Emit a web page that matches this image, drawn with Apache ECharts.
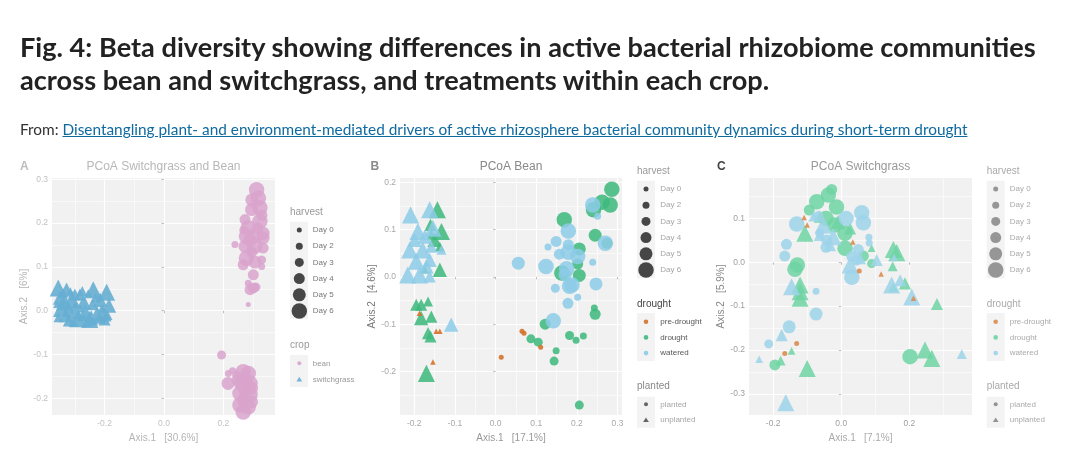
<!DOCTYPE html>
<html>
<head>
<meta charset="utf-8">
<script src="https://cdn.jsdelivr.net/npm/echarts@6/dist/echarts.min.js"></script>
<style>
html, body { margin: 0; padding: 0; background: #fff; }
#wrap { position: relative; width: 1080px; height: 456px; overflow: hidden; }
#chart { position: absolute; left: 0; top: 0; width: 1080px; height: 456px; }
.hd { position: absolute; left: 20px; white-space: nowrap; transform-origin: 0 0; font-family: Lato, "Noto Sans", sans-serif; }
.t { font-size: 26px; line-height: 26px; font-weight: 700; color: #222; }
.s { font-size: 15px; line-height: 15px; color: #333; }
.s a { color: #0f6aa0; text-decoration: underline; }
</style>
</head>
<body>
<div id="wrap">
  <div id="chart"></div>
  <div class="hd t" id="t1" style="top:34px">Fig. 4: Beta diversity showing differences in active bacterial rhizobiome communities</div>
  <div class="hd t" id="t2" style="top:67px">across bean and switchgrass, and treatments within each crop.</div>
  <div class="hd s" id="s1" style="top:122px">From: <a>Disentangling plant- and environment-mediated drivers of active rhizosphere bacterial community dynamics during short-term drought</a></div>
</div>
<script>
// fit header lines to the reference widths
const t1 = document.getElementById('t1')
const t2 = document.getElementById('t2')
const s1 = document.getElementById('s1')
const kT = 1016 / t1.scrollWidth
t1.style.transform = 'scaleX(' + kT + ')'
t2.style.transform = 'scaleX(' + kT + ')'
s1.style.transform = 'scaleX(' + (947 / s1.scrollWidth) + ')'

// harvest day levels and legend labels
const harvestDays = [0, 2, 3, 4, 5, 6]
const harvestLabels = ['Day 0', 'Day 2', 'Day 3', 'Day 4', 'Day 5', 'Day 6']
const harvestSizes = [5, 7, 9, 11, 13, 15.5]

// panel A: [axis1, axis2, harvest day]
const aBean = [
    [0.312, 0.276, 6], [0.318, 0.257, 6], [0.323, 0.235, 6], [0.295, 0.231, 5], [0.273, 0.208, 4],
    [0.323, 0.204, 6], [0.284, 0.189, 6], [0.334, 0.177, 5], [0.278, 0.170, 6], [0.334, 0.166, 5],
    [0.239, 0.151, 2], [0.273, 0.147, 5], [0.306, 0.147, 6], [0.334, 0.143, 4], [0.278, 0.120, 6],
    [0.329, 0.116, 3], [0.267, 0.105, 4], [0.329, 0.101, 2], [0.301, 0.082, 4], [0.284, 0.063, 2],
    [0.301, 0.052, 4], [0.290, 0.048, 4], [0.284, 0.014, 0], [0.310, 0.054, 3], [0.296, 0.253, 5],
    [0.330, 0.218, 4], [0.290, 0.161, 5], [0.310, 0.173, 6], [0.306, 0.111, 5], [0.269, 0.184, 3],
    [0.316, 0.189, 4], [0.296, 0.134, 4],
    [0.194, -0.101, 3], [0.217, -0.143, 2], [0.231, -0.137, 2], [0.216, -0.166, 5], [0.267, -0.139, 6],
    [0.284, -0.143, 6], [0.262, -0.166, 6], [0.290, -0.166, 6], [0.256, -0.189, 6], [0.290, -0.192, 6],
    [0.256, -0.215, 6], [0.284, -0.219, 6], [0.267, -0.231, 6], [0.278, -0.158, 5], [0.273, -0.181, 5],
    [0.267, -0.204, 5], [0.250, -0.158, 5], [0.295, -0.177, 5], [0.245, -0.147, 3], [0.295, -0.208, 5]
]
const aSwitch = [
    [-0.356, 0.052, 6], [-0.328, 0.048, 5], [-0.300, 0.037, 4], [-0.283, 0.037, 4], [-0.238, 0.048, 6],
    [-0.193, 0.042, 6], [-0.350, 0.030, 5], [-0.335, 0.020, 6], [-0.345, 0.005, 6], [-0.330, -0.010, 5],
    [-0.310, 0.025, 6], [-0.300, 0.000, 6], [-0.290, -0.018, 6], [-0.270, 0.020, 5], [-0.265, -0.005, 6],
    [-0.250, -0.020, 6], [-0.240, 0.015, 4], [-0.225, -0.010, 6], [-0.215, 0.025, 5], [-0.205, -0.005, 6],
    [-0.185, 0.012, 5], [-0.200, -0.020, 4], [-0.320, -0.022, 4], [-0.355, -0.015, 3], [-0.340, 0.040, 3],
    [-0.315, 0.045, 2], [-0.275, 0.045, 3], [-0.255, 0.040, 2], [-0.230, 0.030, 3], [-0.210, 0.005, 2],
    [-0.280, 0.005, 2], [-0.305, -0.025, 3], [-0.260, -0.025, 3], [-0.235, -0.025, 2], [-0.360, 0.015, 2],
    [-0.190, -0.010, 3], [-0.295, 0.015, 0], [-0.245, -0.005, 0], [-0.270, -0.015, 2], [-0.320, 0.005, 3]
]

// panel B: [axis1, axis2, harvest day, planted p / unplanted u]
const bDrought = [
    [-0.143, 0.142, 6, 'u'], [-0.133, 0.096, 6, 'u'], [-0.150, 0.078, 5, 'u'], [-0.137, 0.064, 3, 'u'],
    [-0.137, 0.015, 5, 'u'], [-0.174, 0.015, 2, 'u'], [-0.195, -0.059, 4, 'u'], [-0.183, -0.059, 4, 'u'],
    [-0.166, -0.052, 3, 'u'], [-0.183, -0.087, 5, 'u'], [-0.158, -0.084, 4, 'u'], [-0.166, -0.119, 4, 'u'],
    [-0.160, -0.126, 4, 'u'], [-0.170, -0.204, 6, 'u'], [-0.160, 0.110, 4, 'u'], [-0.158, 0.089, 3, 'u'],
    [0.286, 0.185, 6, 'p'], [0.262, 0.158, 6, 'p'], [0.282, 0.152, 6, 'p'], [0.241, 0.142, 6, 'p'],
    [0.169, 0.121, 6, 'p'], [0.245, 0.088, 5, 'p'], [0.274, 0.071, 4, 'p'], [0.206, 0.059, 5, 'p'],
    [0.202, 0.027, 4, 'p'], [0.163, 0.008, 6, 'p'], [0.206, 0.003, 5, 'p'], [0.243, -0.066, 2, 'p'],
    [0.245, -0.079, 4, 'p'], [0.122, -0.100, 4, 'p'], [0.182, -0.124, 3, 'p'], [0.216, -0.125, 2, 'p'],
    [0.198, -0.134, 2, 'p'], [0.087, -0.131, 3, 'p'], [0.105, -0.138, 3, 'p'], [0.149, -0.156, 2, 'p'],
    [0.144, -0.178, 3, 'p'], [0.206, -0.271, 3, 'p']
]
const bWatered = [
    [-0.209, 0.131, 6, 'u'], [-0.162, 0.142, 6, 'u'], [-0.191, 0.096, 6, 'u'], [-0.154, 0.103, 6, 'u'],
    [-0.174, 0.085, 5, 'u'], [-0.211, 0.057, 6, 'u'], [-0.179, 0.057, 6, 'u'], [-0.195, 0.033, 6, 'u'],
    [-0.162, 0.036, 5, 'u'], [-0.216, 0.004, 6, 'u'], [-0.187, 0.004, 6, 'u'], [-0.162, 0.001, 4, 'u'],
    [-0.133, 0.057, 3, 'u'], [-0.158, 0.064, 4, 'u'], [-0.109, -0.101, 5, 'u'], [-0.170, 0.022, 5, 'u'],
    [-0.199, 0.078, 5, 'u'],
    [0.239, 0.152, 6, 'p'], [0.251, 0.128, 2, 'p'], [0.179, 0.097, 6, 'p'], [0.270, 0.071, 6, 'p'],
    [0.149, 0.075, 4, 'p'], [0.129, 0.063, 2, 'p'], [0.179, 0.068, 4, 'p'], [0.157, 0.048, 4, 'p'],
    [0.179, 0.052, 6, 'p'], [0.202, 0.043, 6, 'p'], [0.056, 0.029, 5, 'p'], [0.124, 0.022, 6, 'p'],
    [0.239, 0.031, 2, 'p'], [0.175, 0.017, 6, 'p'], [0.171, 0.004, 5, 'p'], [0.147, -0.024, 3, 'p'],
    [0.182, -0.020, 6, 'p'], [0.188, -0.017, 6, 'p'], [0.247, -0.015, 5, 'p'], [0.202, -0.043, 2, 'p'],
    [0.178, -0.056, 4, 'p'], [0.142, -0.093, 6, 'p']
]
const bPre = [
    [-0.187, -0.077, 0, 'u'], [-0.146, -0.115, 0, 'u'], [-0.137, -0.115, 0, 'u'], [-0.154, -0.180, 0, 'u'],
    [0.065, -0.115, 0, 'p'], [0.070, -0.119, 0, 'p'], [0.111, -0.149, 0, 'p'], [0.014, -0.170, 0, 'p']
]

// panel C
const cDrought = [
    [-0.028, 0.166, 4, 'p'], [-0.038, 0.153, 6, 'p'], [-0.072, 0.138, 6, 'p'], [-0.094, 0.119, 4, 'p'],
    [-0.014, 0.126, 6, 'p'], [-0.045, 0.100, 6, 'p'], [-0.019, 0.085, 6, 'p'], [0.011, 0.066, 6, 'p'],
    [0.011, 0.032, 6, 'p'], [0.065, 0.014, 4, 'p'], [0.089, -0.003, 3, 'p'], [-0.129, -0.006, 6, 'p'],
    [-0.136, -0.016, 6, 'p'], [0.202, -0.215, 6, 'p'], [-0.195, -0.234, 4, 'p'],
    [-0.107, 0.066, 6, 'u'], [-0.063, 0.104, 4, 'u'], [-0.009, 0.092, 5, 'u'], [0.026, 0.077, 4, 'u'],
    [0.089, 0.032, 2, 'u'], [0.153, 0.029, 6, 'u'], [0.163, 0.022, 6, 'u'], [0.151, -0.009, 3, 'u'],
    [-0.121, -0.052, 6, 'u'], [-0.121, -0.067, 6, 'u'], [-0.121, -0.082, 6, 'u'], [0.153, -0.057, 3, 'u'],
    [0.187, -0.048, 4, 'u'], [0.281, -0.095, 4, 'u'], [0.246, -0.200, 6, 'u'], [0.266, -0.219, 6, 'u'],
    [-0.100, -0.242, 6, 'u'], [-0.146, -0.202, 2, 'u'], [-0.178, -0.224, 3, 'u']
]
const cWatered = [
    [-0.131, 0.087, 6, 'p'], [-0.068, 0.104, 4, 'p'], [0.014, 0.100, 6, 'p'], [0.060, 0.113, 6, 'p'],
    [0.065, 0.090, 6, 'p'], [-0.161, 0.041, 4, 'p'], [-0.166, 0.014, 4, 'p'], [-0.043, 0.051, 4, 'p'],
    [-0.063, 0.066, 3, 'p'], [-0.045, 0.034, 4, 'p'], [0.031, -0.034, 6, 'p'], [0.031, 0.013, 4, 'p'],
    [0.050, 0.029, 4, 'p'], [0.081, 0.057, 2, 'p'], [0.082, 0.044, 2, 'p'], [-0.074, -0.066, 2, 'p'],
    [-0.074, -0.118, 5, 'p'], [-0.153, -0.147, 5, 'p'], [-0.213, -0.186, 3, 'p'], [0.045, 0.005, 4, 'p'],
    [-0.146, -0.056, 6, 'u'], [-0.082, 0.104, 3, 'u'], [-0.053, 0.085, 6, 'u'], [-0.063, 0.062, 4, 'u'],
    [-0.024, 0.058, 6, 'u'], [-0.033, 0.039, 4, 'u'], [0.026, -0.006, 6, 'u'], [0.055, 0.009, 4, 'u'],
    [0.104, 0.005, 4, 'u'], [0.155, 0.011, 2, 'u'], [0.148, -0.052, 6, 'u'], [0.173, -0.041, 4, 'u'],
    [0.207, -0.079, 6, 'u'], [-0.175, -0.166, 4, 'u'], [-0.241, -0.221, 2, 'u'], [0.354, -0.209, 3, 'u'],
    [-0.163, -0.320, 6, 'u']
]
const cPre = [
    [0.053, -0.020, 0, 'p'], [-0.131, -0.185, 0, 'p'], [-0.166, -0.208, 0, 'p'],
    [-0.109, 0.102, 0, 'u'], [-0.100, 0.085, 0, 'u'], [0.034, 0.046, 0, 'u'], [0.117, -0.027, 0, 'u'],
    [0.212, -0.082, 0, 'u']
]

const cropLabels = ['bean', 'switchgrass']
const droughtLabels = ['pre-drought', 'drought', 'watered']
const plantedLabels = ['planted', 'unplanted']

const FONT = '"Liberation Sans", Arial, sans-serif'
const PANEL_BG = '#f1f1f1'
const sizeOf = d => harvestSizes[harvestDays.indexOf(d)]

const panels = [
    { left: 52, width: 223, x: [-0.377, 0.374], y: [-0.238, 0.303],
      xMaj: [-0.2, 0, 0.2], xMin: [-0.3, -0.1, 0.1, 0.3],
      yMaj: [-0.2, -0.1, 0, 0.1, 0.2, 0.3], yMin: [-0.15, -0.05, 0.05, 0.15, 0.25],
      xName: 'Axis.1   [30.6%]', yName: 'Axis.2   [6%]',
      tick: '#c2c2c2', name: '#b5b5b5', yNameC: '#b5b5b5' },
    { left: 400, width: 222, x: [-0.235, 0.311], y: [-0.292, 0.209],
      xMaj: [-0.2, -0.1, 0, 0.1, 0.2, 0.3], xMin: [-0.15, -0.05, 0.05, 0.15, 0.25],
      yMaj: [-0.2, -0.1, 0, 0.1, 0.2], yMin: [-0.25, -0.15, -0.05, 0.05, 0.15],
      xName: 'Axis.1   [17.1%]', yName: 'Axis.2   [4.6%]',
      tick: '#a8a8a8', name: '#999', yNameC: '#777' },
    { left: 749, width: 223, x: [-0.271, 0.384], y: [-0.348, 0.192],
      xMaj: [-0.2, 0, 0.2], xMin: [-0.1, 0.1, 0.3],
      yMaj: [-0.3, -0.2, -0.1, 0, 0.1], yMin: [-0.25, -0.15, -0.05, 0.05, 0.15],
      xName: 'Axis.1   [7.1%]', yName: 'Axis.2   [5.9%]',
      tick: '#a0a0a0', name: '#aaa', yNameC: '#888' }
]

const grid = panels.map(p => ({
    left: p.left, top: 178, width: p.width, height: 237,
    show: true, backgroundColor: PANEL_BG, borderWidth: 0
}))

function axisPair(p, i, dim) {
    const isX = dim === 'x'
    const ext = p[dim]
    const major = {
        type: 'value', gridIndex: i, min: ext[0], max: ext[1],
        axisLine: { show: false },
        axisTick: { show: true, length: 2.5, lineStyle: { color: '#b0b0b0', width: 0.8 }, customValues: p[dim + 'Maj'] },
        axisLabel: { show: true, customValues: p[dim + 'Maj'], fontSize: 8.5, fontFamily: FONT, color: p.tick, margin: 4,
            formatter: v => v.toFixed(1) },
        splitLine: { show: true, lineStyle: { color: '#ffffff', width: 1.2 } },
        name: isX ? p.xName : p.yName,
        nameLocation: 'middle',
        nameGap: isX ? 12 : 21,
        nameTextStyle: { fontSize: 10, fontFamily: FONT, color: isX ? p.name : p.yNameC }
    }
    const minor = {
        type: 'value', gridIndex: i, min: ext[0], max: ext[1],
        axisLine: { show: false },
        axisTick: { show: false, customValues: p[dim + 'Min'] },
        axisLabel: { show: false, customValues: p[dim + 'Min'] },
        splitLine: { show: true, lineStyle: { color: '#ffffff', width: 0.6 } }
    }
    return [major, minor]
}

const xAxis = []
const yAxis = []
panels.forEach((p, i) => {
    const [xm, xn] = axisPair(p, i, 'x')
    const [ym, yn] = axisPair(p, i, 'y')
    xAxis[i] = xm; xAxis[i + 3] = xn
    yAxis[i] = ym; yAxis[i + 3] = yn
})

function scatter(name, data, idx, color, opacity, fixedSymbol) {
    return {
        name, type: 'scatter', xAxisIndex: idx, yAxisIndex: idx, data,
        symbol: fixedSymbol ? fixedSymbol : (v => v[3] === 'u' ? 'triangle' : 'circle'),
        symbolSize: (v) => {
            const tri = fixedSymbol ? fixedSymbol === 'triangle' : v[3] === 'u'
            return tri ? sizeOf(v[2]) * 1.1 : sizeOf(v[2])
        },
        itemStyle: { color, opacity },
        emphasis: { disabled: true },
        silent: true
    }
}

const colA = ['#d9a3cd', '#66aed3']
const colB = ['#d5722a', '#3cb97d', '#8ccbe8']
const colC = ['#dc8c50', '#6fd3a3', '#9dd3ea']

const series = [
    scatter('bean', aBean, 0, colA[0], 0.85, 'circle'),
    scatter('switchgrass', aSwitch, 0, colA[1], 0.9, 'triangle'),
    scatter('drought', bDrought, 1, colB[1], 0.85),
    scatter('watered', bWatered, 1, colB[2], 0.85),
    scatter('pre-drought', bPre, 1, colB[0], 0.9),
    scatter('drought', cDrought, 2, colC[1], 0.85),
    scatter('watered', cWatered, 2, colC[2], 0.85),
    scatter('pre-drought', cPre, 2, colC[0], 0.9)
]

// ---- panel titles and legends (graphic) ----
const g = []
function txt(x, y, text, size, color, bold) {
    g.push({ type: 'text', x, y, silent: true,
        style: { text, fontSize: size, fontWeight: bold ? 'bold' : 'normal', fontFamily: FONT, fill: color, verticalAlign: 'middle', align: 'left' } })
}
function tri(cx, cy, r, fill, op) {
    g.push({ type: 'polygon', silent: true, shape: { points: [[cx, cy - r], [cx - r * 1.1, cy + r * 0.8], [cx + r * 1.1, cy + r * 0.8]] },
        style: { fill, opacity: op } })
}
function dot(cx, cy, r, fill, op) {
    g.push({ type: 'circle', silent: true, shape: { cx, cy, r }, style: { fill, opacity: op } })
}
function box(x, y, w, h) {
    g.push({ type: 'rect', silent: true, shape: { x, y, width: w, height: h }, style: { fill: '#f3f3f3' } })
}

// panel headings
txt(20, 166.5, 'A', 12, '#bdbdbd', true)
txt(370.5, 166.5, 'B', 12, '#8a8a8a', true)
txt(717, 166.5, 'C', 12, '#444', true)
const panelTitles = ['PCoA Switchgrass and Bean', 'PCoA Bean', 'PCoA Switchgrass']
const titleColors = ['#b8b8b8', '#888', '#999']
panels.forEach((p, i) => {
    g.push({ type: 'text', x: p.left + p.width / 2, y: 166.5, silent: true,
        style: { text: panelTitles[i], fontSize: 12, fontFamily: FONT, fill: titleColors[i], align: 'center', verticalAlign: 'middle' } })
})

// harvest legend blocks
const legendPos = [
    { tx: 290, kx: 299.3, lx: 312.7, ty: 212.7, ky: 230, kc: '#333', kop: 0.9, tc: '#999', lc: '#777' },
    { tx: 637, kx: 646, lx: 660.3, ty: 171, ky: 189, kc: '#333', kop: 0.9, tc: '#999', lc: '#a5a5a5' },
    { tx: 986.7, kx: 995.7, lx: 1009.7, ty: 171, ky: 189, kc: '#777', kop: 0.75, tc: '#aaa', lc: '#aaa' }
]
legendPos.forEach(L => {
    txt(L.tx, L.ty, 'harvest', 10, L.tc)
    box(L.tx, L.ky - 8.3, 18, 97.6)
    harvestLabels.forEach((lab, j) => {
        const y = L.ky + j * 16.2
        dot(L.kx, y, sizeOf(harvestDays[j]) / 2, L.kc, L.kop)
        txt(L.lx, y, lab, 8, L.lc)
    })
})

// crop legend (A)
txt(290, 345, 'crop', 10, '#999')
box(290, 355, 18, 32)
dot(299.3, 363.3, 2, colA[0], 0.9)
tri(299.3, 379.3, 2.6, colA[1], 0.9)
cropLabels.forEach((lab, j) => txt(312.7, 363.3 + j * 16, lab, 8, '#999'))

// drought + planted legends (B, C)
const dlPos = [
    { tx: 637, kx: 646, lx: 660.3, cols: colB, dt: '#444', dl: '#555', pt: '#888', pl: '#a5a5a5', pk: '#555' },
    { tx: 986.7, kx: 995.7, lx: 1009.7, cols: colC, dt: '#aaa', dl: '#aaa', pt: '#aaa', pl: '#aaa', pk: '#888' }
]
dlPos.forEach(L => {
    txt(L.tx, 304.3, 'drought', 10, L.dt)
    box(L.tx, 313, 18, 48)
    droughtLabels.forEach((lab, j) => {
        const y = 321.7 + j * 15.7
        dot(L.kx, y, 2.3, L.cols[j], 0.9)
        txt(L.lx, y, lab, 8, L.dl)
    })
    txt(L.tx, 386.7, 'planted', 10, L.pt)
    box(L.tx, 396.7, 18, 31)
    dot(L.kx, 404.3, 2, L.pk, 0.9)
    tri(L.kx, 420, 2.6, L.pk, 0.9)
    plantedLabels.forEach((lab, j) => txt(L.lx, 404.3 + j * 15.7, lab, 8, L.pl))
})

const chart = echarts.init(document.getElementById('chart'), null, { renderer: 'canvas' })
chart.setOption({
    animation: false,
    backgroundColor: 'transparent',
    grid, xAxis, yAxis, series,
    graphic: { elements: g }
})
</script>
</body>
</html>
